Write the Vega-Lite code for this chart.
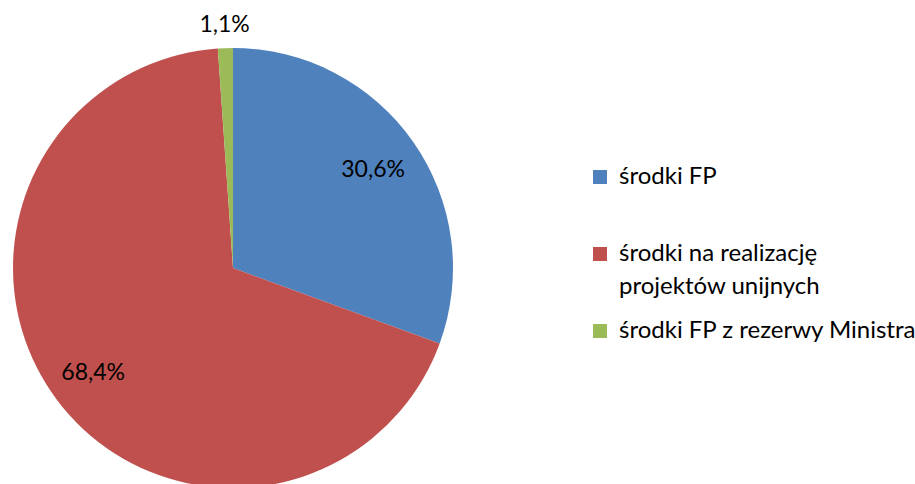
{
  "$schema": "https://vega.github.io/schema/vega-lite/v6.json",
  "width": 466,
  "height": 536,
  "padding": 0,
  "autosize": {"type": "pad"},
  "background": "white",
  "config": {
    "view": {"stroke": null},
    "font": "Lato",
    "style": {"guide-label": {"lineHeight": 33}}
  },
  "data": {
    "values": [
      {"kategoria": "środki FP", "udzial": 30.6, "etykieta": "30,6%", "kolejnosc": 1},
      {"kategoria": "środki na realizację projektów unijnych", "udzial": 68.4, "etykieta": "68,4%", "kolejnosc": 2},
      {"kategoria": "środki FP z rezerwy Ministra", "udzial": 1.1, "etykieta": "1,1%", "kolejnosc": 3}
    ]
  },
  "encoding": {
    "theta": {"field": "udzial", "type": "quantitative", "stack": true},
    "order": {"field": "kolejnosc", "type": "quantitative"},
    "color": {
      "field": "kategoria",
      "type": "nominal",
      "sort": ["środki FP", "środki na realizację projektów unijnych", "środki FP z rezerwy Ministra"],
      "scale": {
        "domain": ["środki FP", "środki na realizację projektów unijnych", "środki FP z rezerwy Ministra"],
        "range": ["#4F81BD", "#C0504D", "#9BBB59"]
      },
      "legend": {
        "title": null,
        "orient": "none",
        "legendX": 588,
        "legendY": 165,
        "symbolType": "square",
        "symbolSize": 196,
        "symbolStrokeWidth": 0,
        "labelFontSize": 24,
        "labelFont": "Lato",
        "labelColor": "black",
        "labelLimit": 400,
        "rowPadding": 20,
        "labelOffset": 7,
        "labelExpr": "datum.label == 'środki na realizację projektów unijnych' ? ['środki na realizację', 'projektów unijnych'] : (datum.label == 'środki FP' ? ['środki FP', ''] : datum.label)"
      }
    }
  },
  "layer": [
    {
      "mark": {"type": "arc", "outerRadius": 220, "stroke": "white", "strokeWidth": 0}
    },
    {
      "mark": {
        "type": "text",
        "radius": {"expr": "datum.udzial < 5 ? 243 : (datum.udzial > 50 ? 175 : 171)"},
        "fontSize": 23,
        "font": "Lato",
        "fill": "black"
      },
      "encoding": {
        "text": {"field": "etykieta", "type": "nominal"},
        "color": {"value": "black"}
      }
    }
  ]
}
